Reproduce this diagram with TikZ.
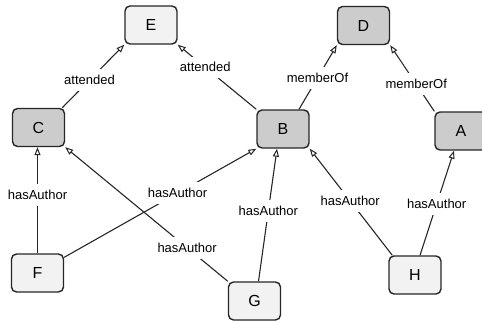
\documentclass[tikz,border=0pt]{standalone}
\usepackage{fontspec}
\setmainfont{Liberation Sans}
\usetikzlibrary{arrows.meta,calc}
\begin{document}
\begin{tikzpicture}[x=1pt,y=-1pt,
  ent/.style={draw=black!85, line width=1.4pt, rounded corners=5pt,
    minimum width=52pt, minimum height=38pt, inner sep=0pt,
    font=\fontsize{16}{18}\selectfont},
  dark/.style={ent, fill=black!20},
  light/.style={ent, fill=black!5},
  rel/.style={draw=black!85, line width=1.1pt,
    -{Triangle[open, length=8pt, width=6pt, line width=1pt]}},
  lbl/.style={fill=white, inner xsep=3pt, inner ysep=6pt, font=\fontsize{13}{15}\selectfont}]
\useasboundingbox (0,0) rectangle (482,321);
\node[light] (E) at (151,25) {E};
\node[dark]  (D) at (363.5,25.5) {D};
\node[dark]  (C) at (38.5,127.5) {C};
\node[dark]  (B) at (283,129) {B};
\node[dark]  (A) at (461,131) {A};
\node[light] (F) at (37.5,273) {F};
\node[light] (G) at (254.5,301) {G};
\node[light] (H) at (415,275) {H};

\draw[rel] ($(C.north east)+(-3,0)$) -- node[lbl,pos=0.44] (l1) {attended} (E.south west);
\draw[rel] (B.north west) -- node[lbl,pos=0.65] (l2) {attended} (E.south east);
\draw[rel] ($(B.north)+(16,0)$) -- node[lbl,pos=0.49] (l3) {memberOf} (D.south west);
\draw[rel] (A.north west) -- node[lbl,pos=0.41] (l4) {memberOf} (D.south east);
\draw[rel] (F.north) -- node[lbl,pos=0.55] (l5) {hasAuthor} (F.north |- C.south);
\draw[rel] ($(F.north east)+(0,4)$) -- node[lbl,pos=0.59] (l6) {hasAuthor} (B.south west);
\draw[rel] (G.north west) -- node[lbl,pos=0.25] (l7) {hasAuthor} (C.south east);
\draw[rel] ($(G.north)+(4,0)$) -- node[lbl,pos=0.53] (l8) {hasAuthor} ($(B.south)+(-6,0)$);
\draw[rel] ($(H.north west)+(4,0)$) -- node[lbl,pos=0.51] (l9) {hasAuthor} (B.south east);
\draw[rel] ($(H.north)+(5,0)$) -- node[lbl,pos=0.49] (l10) {hasAuthor} ($(A.south)+(-7,0)$);
\end{tikzpicture}
\end{document}
